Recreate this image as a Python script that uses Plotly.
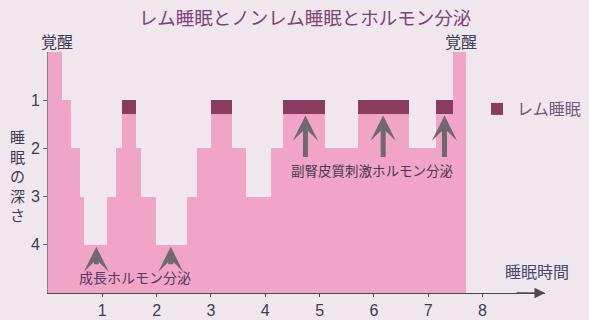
import plotly.graph_objects as go

# ---- data ----
seg_start = [0.00, 0.25, 0.42, 0.58, 0.67, 1.08, 1.25, 1.37, 1.62, 1.72, 1.98, 2.55,
             2.75, 3.00, 3.38, 3.65, 4.10, 4.33, 5.10, 5.70, 6.65, 7.15, 7.45]
seg_end = [0.25, 0.42, 0.58, 0.67, 1.08, 1.25, 1.37, 1.62, 1.72, 1.98, 2.55, 2.75,
           3.00, 3.38, 3.65, 4.10, 4.33, 5.10, 5.70, 6.65, 7.15, 7.45, 7.70]
depth = [0, 1, 2, 3, 4, 3, 2, 1, 2, 3, 4, 3, 2, 1, 2, 3, 2, 1, 2, 1, 2, 1, 0]
is_rem = [0, 0, 0, 0, 0, 0, 0, 1, 0, 0, 0, 0, 0, 1, 0, 0, 0, 1, 0, 1, 0, 1, 0]
rem_band = 0.28

growth_hormone_times = [0.89, 2.26]
acth_times = [4.74, 6.17, 7.30]

x_ticks = [1, 2, 3, 4, 5, 6, 7, 8]
y_ticks = [1, 2, 3, 4]

title_text = "レム睡眠とノンレム睡眠とホルモン分泌"
FONT = "Noto Sans CJK JP"
BG = "#efe7ed"
PINK = "#f0a4c6"
REM_C = "#8a3b5f"
ARROW_C = "#6f696f"
TXT = "#3d3b55"

W, H = 589, 320
L, R, T, B = 48, 44, 52, 27
PW, PH = W - L - R, H - T - B
X_MAX = 9.15


def px(x):
    return (x - L) / PW


def py(y):
    return (H - B - y) / PH


mid = [(s + e) / 2 for s, e in zip(seg_start, seg_end)]
wid = [e - s for s, e in zip(seg_start, seg_end)]
bottom = 5

fig = go.Figure()
fig.add_trace(go.Bar(
    x=mid, y=[d - bottom for d in depth], base=bottom, width=wid,
    marker=dict(color=PINK, line=dict(width=0)), showlegend=False, hoverinfo="skip"))

rx = [m for m, r in zip(mid, is_rem) if r]
rw = [w for w, r in zip(wid, is_rem) if r]
rd = [d for d, r in zip(depth, is_rem) if r]
fig.add_trace(go.Bar(
    x=rx, y=[rem_band] * len(rx), base=rd, width=rw, name="レム睡眠",
    marker=dict(color=REM_C, line=dict(width=0)), showlegend=True, hoverinfo="skip"))


def label(text, x, y, size, color, **kw):
    return dict(text=text, xref="paper", yref="paper", x=px(x), y=py(y),
                xanchor="center", yanchor="middle", showarrow=False,
                font=dict(family=FONT, size=size, color=color), **kw)


ann = []
ann.append(label(title_text, 305, 17, 18.5, "#7e4279"))
for xx in (57, 461):
    ann.append(label("覚醒", xx, 41, 16, TXT))
ann.append(label("睡<br>眠<br>の<br>深<br>さ", 17, 175, 15, TXT))
ann.append(label("睡眠時間", 537, 271, 16, "#4a4670"))
ann.append(label("成長ホルモン分泌", 135, 277, 14, "#54385e"))
ann.append(label("副腎皮質刺激ホルモン分泌", 372, 170, 13.5, "#4a3a50"))

for t in growth_hormone_times:
    ann.append(dict(x=t, y=4.04, xref="x", yref="y", ax=0, ay=19, text="",
                    showarrow=True, arrowhead=3, arrowsize=0.85, arrowwidth=5,
                    arrowcolor=ARROW_C, standoff=0))
for t in acth_times:
    ann.append(dict(x=t, y=1.32, xref="x", yref="y", ax=0, ay=43, text="",
                    showarrow=True, arrowhead=3, arrowsize=0.85, arrowwidth=5,
                    arrowcolor=ARROW_C, standoff=0))
# arrowhead at the end of the time axis
ann.append(dict(x=X_MAX, y=5, xref="x", yref="y", ax=-30, ay=0, text="",
                showarrow=True, arrowhead=2, arrowsize=1.4, arrowwidth=1.5,
                arrowcolor="#4a4a4a", standoff=0))

fig.update_layout(
    width=W, height=H, margin=dict(l=L, r=R, t=T, b=B, autoexpand=False),
    paper_bgcolor=BG, plot_bgcolor=BG, barmode="overlay", bargap=0,
    font=dict(family=FONT, color=TXT),
    annotations=ann,
    legend=dict(x=px(477), y=py(92), xanchor="left", yanchor="top",
                itemwidth=30, bgcolor="rgba(0,0,0,0)",
                font=dict(family=FONT, size=16, color="#6b5a78")),
    xaxis=dict(range=[0, X_MAX], tickvals=x_ticks, ticktext=[str(v) for v in x_ticks],
               showgrid=False, zeroline=False, showline=True, linecolor="#4a4a4a",
               linewidth=1.3, ticks="outside", ticklen=3, tickcolor="#4a4a4a",
               automargin=False,
               tickfont=dict(family="Liberation Sans", size=16, color=TXT)),
    yaxis=dict(range=[5, 0], tickvals=y_ticks, ticktext=[str(v) for v in y_ticks],
               showgrid=False, zeroline=False, showline=True, linecolor="#8a8090",
               linewidth=1, ticks="outside", ticklen=4, tickcolor="#6a6070",
               automargin=False,
               tickfont=dict(family="Liberation Sans", size=16, color=TXT)),
)

fig.write_html("out.html")
